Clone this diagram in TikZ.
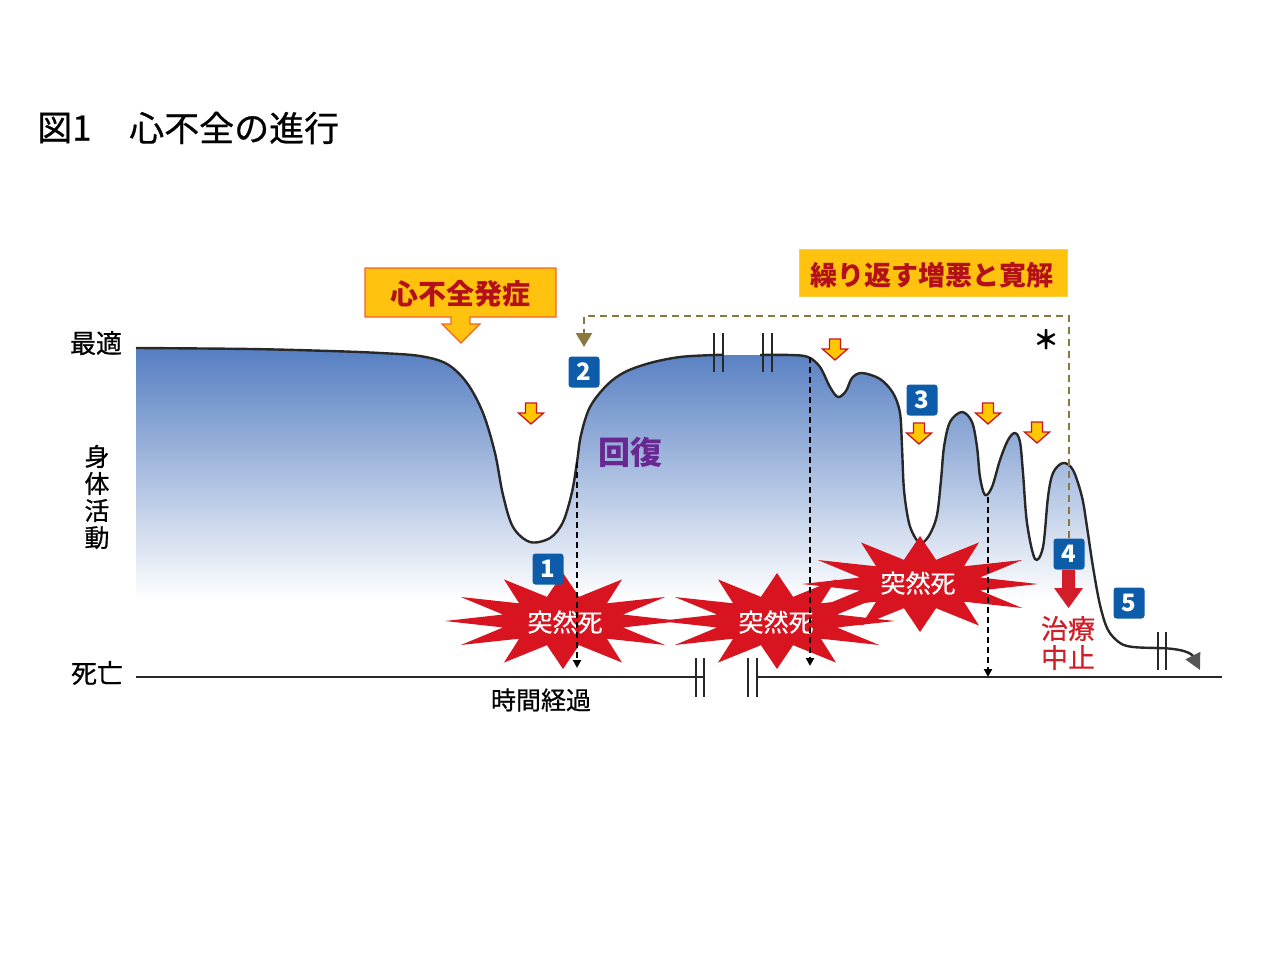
\documentclass[tikz,border=0pt]{standalone}
\usepackage{fontspec}
\newfontfamily\jp{Noto Sans CJK JP}
\newfontfamily\jpmed[FakeBold=0.6]{Noto Sans CJK JP}
\usetikzlibrary{arrows.meta,calc}
\definecolor{areablue}{RGB}{84,125,193}
\definecolor{curvegray}{RGB}{40,40,40}
\definecolor{boxyellow}{RGB}{255,194,14}
\definecolor{boxborder}{RGB}{240,100,40}
\definecolor{labelred}{RGB}{180,16,26}
\definecolor{arrowred}{RGB}{205,20,30}
\definecolor{arrowyellow}{RGB}{255,200,0}
\definecolor{burstred}{RGB}{215,20,32}
\definecolor{badgeblue}{RGB}{12,92,170}
\definecolor{recpurple}{RGB}{105,40,145}
\definecolor{olivec}{RGB}{138,120,60}
\definecolor{stopred}{RGB}{210,30,40}
\definecolor{tipgray}{RGB}{85,85,85}
\tikzset{
  curve/.style={draw=curvegray, line width=2.4pt, line join=round},
  axisline/.style={draw=curvegray, line width=1.8pt},
  brk/.style={draw=curvegray, line width=1.8pt},
  dashv/.style={draw=black, line width=2.2pt, dash pattern=on 6pt off 4pt, -{Triangle[length=8pt,width=8pt]}},
  olivedash/.style={draw=olivec, line width=2.2pt, dash pattern=on 7pt off 5pt, -{Triangle[length=14pt,width=16pt]}},
  badge/.style={fill=badgeblue, rounded corners=3pt, minimum width=31pt, minimum height=31pt, inner sep=0pt, text=white, font=\jp\bfseries\fontsize{24}{24}\selectfont},
  jplbl/.style={inner sep=0pt, font=\jpmed\fontsize{26}{28}\selectfont},
  boxlbl/.style={inner sep=0pt, text=labelred, font=\jp\bfseries\fontsize{27}{28}\selectfont},
  burstlbl/.style={inner sep=0pt, text=white, font=\jpmed\fontsize{25}{25}\selectfont},
  smallarrow/.pic={\filldraw[fill=arrowyellow, draw=arrowred, line width=1.3pt, line join=miter]
     (-5.5,0) -- (5.5,0) -- (5.5,10) -- (12.5,10) -- (0,21) -- (-12.5,10) -- (-5.5,10) -- cycle;},
  burst/.pic={\fill[burstred] (0:118 and 48) \foreach \k in {0,...,11}{ -- ({\k*30+15}:62 and 25) -- ({\k*30+30}:118 and 48)} -- cycle;}
}
\begin{document}
\begin{tikzpicture}[x=1pt,y=-1pt]
\useasboundingbox[fill=white] (0,0) rectangle (1280,960);

% title
\node[anchor=west, inner sep=0pt, font=\jpmed\fontsize{35}{36}\selectfont] (fig) at (37,128) {図1};
\node[anchor=west, inner sep=0pt, font=\jpmed\fontsize{35}{36}\selectfont] (title) at (129,128) {心不全の進行};

% shaded area under curve
\begin{scope}
\clip (136,690) -- plot[smooth,tension=0.55] coordinates {
(136,348) (250,349) (330,351) (380,353) (420,356) (447,364) (467,383) (483,413) (495,453) (503,495) (513,527) (530,542) (550,538) (563,522) (572,492) (577,462) (581,435) (590,407) (607,385) (625,372) (650,363) (680,357) (714,355) (723,355)
(760,355) (790,355) (808,357) (820,367) (830,387) (838,397) (846,391) (852,378) (862,373) (880,379) (893,393) (900,413) (902,447) (904,490) (909,523) (916,539) (922,543) (930,534) (937,515) (941,480) (944,447) (950,422) (962,412) (972,422) (977,447) (980,477) (985,495) (992,487) (1000,460) (1008,440) (1015,433) (1020,442) (1023,473) (1027,523) (1035,559) (1043,547) (1048,497) (1053,473) (1063,463) (1073,470) (1082,497) (1087,527) (1093,567) (1100,605) (1108,630) (1120,643) (1133,647) (1157,648)} -- (1157,690) -- cycle;
\shade[top color=areablue, bottom color=white] (130,346) rectangle (1200,600);
\end{scope}

% curve
\draw[curve] plot[smooth,tension=0.55] coordinates {
(136,348) (250,349) (330,351) (380,353) (420,356) (447,364) (467,383) (483,413) (495,453) (503,495) (513,527) (530,542) (550,538) (563,522) (572,492) (577,462) (581,435) (590,407) (607,385) (625,372) (650,363) (680,357) (714,355) (723,355)};
\draw[curve] plot[smooth,tension=0.55] coordinates {
(760,355) (790,355) (808,357) (820,367) (830,387) (838,397) (846,391) (852,378) (862,373) (880,379) (893,393) (900,413) (902,447) (904,490) (909,523) (916,539) (922,543) (930,534) (937,515) (941,480) (944,447) (950,422) (962,412) (972,422) (977,447) (980,477) (985,495) (992,487) (1000,460) (1008,440) (1015,433) (1020,442) (1023,473) (1027,523) (1035,559) (1043,547) (1048,497) (1053,473) (1063,463) (1073,470) (1082,497) (1087,527) (1093,567) (1100,605) (1108,630) (1120,643) (1133,647) (1157,648)};
\coordinate (tailA) at (1155,648);
\coordinate (tailB) at (1200,670);
\draw[curve, -{Triangle[length=16pt,width=16pt,color=tipgray]}] (tailA) .. controls (1184,648) and (1192,654) .. (tailB);

% curve break marks
\foreach \x in {714,723,763,772} \draw[brk] (\x,333) -- (\x,372);
\foreach \x in {1158,1166} \draw[brk] (\x,632) -- (\x,670);

% axis
\coordinate (axL) at (136,677);
\coordinate (axM1) at (704,677);
\coordinate (axM2) at (757,677);
\coordinate (axR) at (1222,677);
\draw[axisline] (axL) -- (axM1);
\draw[axisline] (axM2) -- (axR);
\foreach \x in {696,704,748,757} \draw[brk] (\x,658) -- (\x,697);

% axis labels
\node[jplbl] (opt) at (96,343) {最適};
\node[jplbl, align=center, font=\jpmed\fontsize{25}{27}\selectfont] (act) at (97,497) {身\\体\\活\\動};
\node[jplbl] (death) at (97,673) {死亡};
\node[jplbl, font=\jpmed\fontsize{25}{27}\selectfont] (time) at (541,700) {時間経過};

% onset box with arrow
\filldraw[fill=boxyellow, draw=boxborder, line width=1.4pt, line join=miter]
  (365,268) -- (556,268) -- (556,317) -- (470,317) -- (470,324) -- (480,324) -- (461,343)
  -- (442,324) -- (451,324) -- (451,317) -- (365,317) -- cycle;
\node[boxlbl, font=\jp\bfseries\fontsize{28}{28}\selectfont] (onset) at (460,294) {心不全発症};

% repeat box
\node[fill=boxyellow, draw=boxyellow!80!white, minimum width=268pt, minimum height=47pt, inner sep=0pt] (repbox) at (933,273) {};
\node[boxlbl] (rep) at (932,275) {繰り返す増悪と寛解};

% small arrows
\pic at (531,403) {smallarrow};
\pic at (835,339) {smallarrow};
\pic at (919,423) {smallarrow};
\pic at (988,403) {smallarrow};
\pic at (1037,422) {smallarrow};

% bursts
\pic at (563,621) {burst};
\pic at (777,621) {burst};
\pic at (920,584) {burst};
\node[burstlbl] (sd1) at (565,622) {突然死};
\node[burstlbl] (sd2) at (776,622) {突然死};
\node[burstlbl] (sd3) at (918,583) {突然死};

% dashed verticals
\coordinate (d1t) at (577,462);
\coordinate (d1b) at (577,668);
\coordinate (d2t) at (810,357);
\coordinate (d2b) at (810,666);
\coordinate (d3t) at (988,497);
\coordinate (d3b) at (988,677);
\draw[dashv] (d1t) -- (d1b);
\draw[dashv] (d2t) -- (d2b);
\draw[dashv] (d3t) -- (d3b);

% badges
\node[badge] (b1) at (548,569) {1};
\node[badge] (b2) at (584,372) {2};
\node[badge] (b3) at (922,400) {3};
\node[badge] (b4) at (1069,554) {4};
\node[badge] (b5) at (1129,603) {5};

% olive dashed loop
\coordinate (oTop) at (584,316);
\coordinate (oEnd) at (584,347);
\draw[olivedash] (b4.north) |- (oTop) -- (oEnd);
\node[inner sep=0pt, font=\jp\bfseries\fontsize{26}{26}\selectfont] (ast) at (1046,340) {＊};

% red stop arrow
\fill[stopred] (1062,570) -- (1075,570) -- (1075,588) -- (1083,588) -- (1068.5,608) -- (1054,588) -- (1062,588) -- cycle;
\node[inner sep=0pt, align=center, text=stopred, font=\jpmed\fontsize{27}{29}\selectfont] (stop) at (1068,643) {治療\\中止};

% recovery label
\node[inner sep=0pt, text=recpurple, font=\jp\bfseries\fontsize{32}{32}\selectfont] (rec) at (630,452) {回復};
\end{tikzpicture}
\end{document}
